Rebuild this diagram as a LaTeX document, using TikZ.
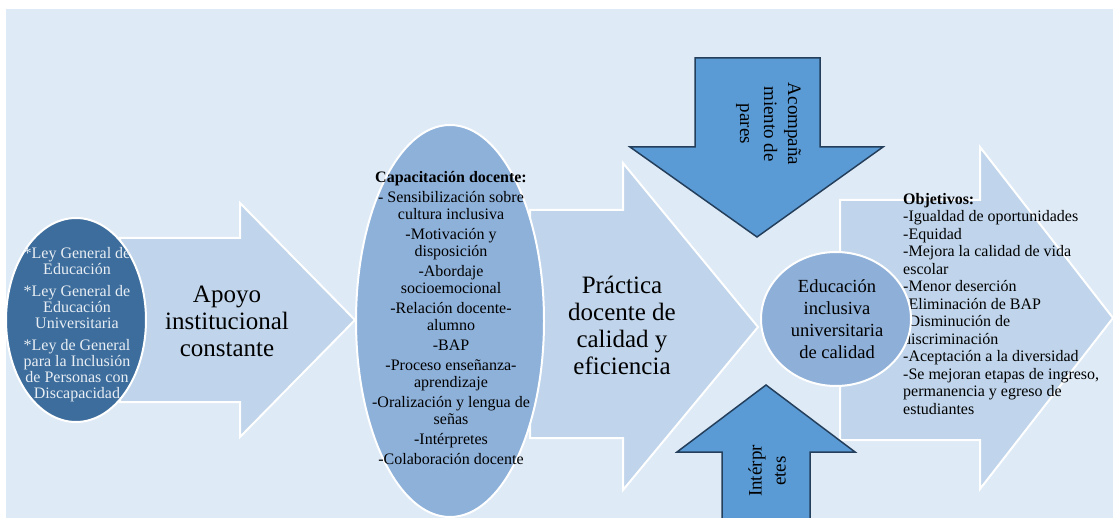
\documentclass[tikz,border=0pt]{standalone}
\usepackage{fontspec}
\setmainfont{Liberation Serif}
\usetikzlibrary{shapes.geometric}
\definecolor{bg}{HTML}{DEEAF6}
\definecolor{arrowfill}{HTML}{C0D5EB}
\definecolor{darkell}{HTML}{3D6D9C}
\definecolor{midell}{HTML}{8EB1DA}
\definecolor{circfill}{HTML}{8EAFD7}
\definecolor{bluefill}{HTML}{5B9BD5}
\definecolor{navy}{HTML}{243F5C}
\definecolor{lighttext}{HTML}{E8EEF4}
\begin{document}
\begin{tikzpicture}[x=1pt,y=-1pt,line join=miter,
  bigarrow/.style={fill=arrowfill,draw=white,line width=2pt},
  bluearrow/.style={fill=bluefill,draw=navy,line width=1.5pt},
  blob/.style={ellipse,draw=white,line width=2pt,inner sep=0pt},
  txt/.style={inner sep=0pt,align=center,text=black}]
\useasboundingbox (0,0) rectangle (1113,518);
\fill[bg] (6,9) rectangle (1113,518);
% arrow 1
\draw[bigarrow] (120,238) -- (240,238) -- (240,203) -- (355,320) -- (240,437) -- (240,402) -- (120,402) -- cycle;
\node[blob,fill=darkell,minimum width=140pt,minimum height=204pt] (ley) at (76,320) {};
\node[txt,text=lighttext,font=\fontsize{16}{16}\selectfont] (leytxt) at (77,325)
 {*Ley General de\\Educación\\[6pt]*Ley General de\\Educación\\Universitaria\\[6pt]*Ley de General\\para la Inclusión\\de Personas con\\Discapacidad};
\node[txt,font=\fontsize{25}{27}\selectfont] (apoyo) at (227,321.5) {Apoyo\\institucional\\constante};
% arrow 2
\draw[bigarrow] (530,210) -- (623,210) -- (623,163) -- (758,327) -- (623,490) -- (623,438) -- (530,438) -- cycle;
\node[blob,fill=midell,minimum width=188pt,minimum height=392pt] (cap) at (450,321) {};
\node[txt,font=\fontsize{16}{17}\selectfont] (captxt) at (451,318)
 {\textbf{Capacitación docente:}\\[3pt]- Sensibilización sobre\\cultura inclusiva\\[3pt]-Motivación y\\disposición\\[3pt]-Abordaje\\socioemocional\\[3pt]-Relación docente-\\alumno\\[3pt]-BAP\\[3pt]-Proceso enseñanza-\\aprendizaje\\[3pt]-Oralización y lengua de\\señas\\[3pt]-Intérpretes\\[3pt]-Colaboración docente};
\node[txt,font=\fontsize{25}{27}\selectfont] (practica) at (622,325) {Práctica\\docente de\\calidad y\\eficiencia};
% arrow 3
\draw[bigarrow] (840,200) -- (980,200) -- (980,147) -- (1113,318) -- (980,489) -- (980,440) -- (840,440) -- cycle;
\node[txt,align=left,anchor=west,font=\fontsize{16}{17.5}\selectfont] (objtxt) at (903,304)
 {\textbf{Objetivos:}\\-Igualdad de oportunidades\\-Equidad\\-Mejora la calidad de vida\\escolar\\-Menor deserción\\-Eliminación de BAP\\-Disminución de\\discriminación\\-Aceptación a la diversidad\\-Se mejoran etapas de ingreso,\\permanencia y egreso de\\estudiantes};
\node[blob,fill=circfill,minimum width=150pt,minimum height=134pt] (edu) at (836,319) {};
\node[txt,font=\fontsize{18.5}{21.7}\selectfont] (edutxt) at (837,319.2) {Educación\\inclusiva\\universitaria\\de calidad};
% down arrow
\draw[bluearrow] (695,58) -- (820,58) -- (820,147) -- (883,147) -- (757,237) -- (630,147) -- (695,147) -- cycle;
\node[txt,rotate=-90,font=\fontsize{19}{24}\selectfont] (acomp) at (768.5,124) {Acompaña\\miento de\\pares};
% up arrow
\draw[bluearrow] (722,524) -- (722,452) -- (677,452) -- (766,385) -- (855,452) -- (810,452) -- (810,524) -- cycle;
\node[txt,rotate=90,font=\fontsize{19}{24}\selectfont] (interp) at (767,471) {Intérpr\\etes};
\end{tikzpicture}
\end{document}
